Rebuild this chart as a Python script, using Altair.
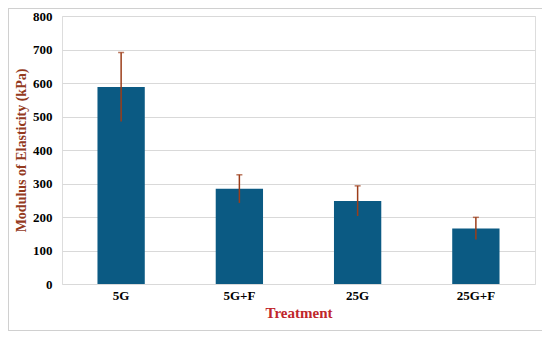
import altair as alt
import pandas as pd

treatments = ["5G", "5G+F", "25G", "25G+F"]
modulus = [588, 284, 248, 166]
error = [103, 42, 45, 33]
y_ticks = [0, 100, 200, 300, 400, 500, 600, 700, 800]

df = pd.DataFrame({"Treatment": treatments, "Modulus": modulus, "Err": error})
df["lo"] = df["Modulus"] - df["Err"]
df["hi"] = df["Modulus"] + df["Err"]

serif = "Liberation Serif"
yscale = alt.Scale(domain=[0, 800])
xscale = alt.Scale(paddingInner=0.6, paddingOuter=0.3)

xaxis = alt.Axis(title="Treatment", labelAngle=0, labelFont=serif,
                 labelFontWeight="bold", labelFontSize=13, labelColor="#000000",
                 titleFont=serif, titleFontWeight="bold", titleFontSize=15,
                 titleColor="#C0262B", titlePadding=3, ticks=False, domain=False,
                 labelPadding=5, grid=False)
yaxis = alt.Axis(title="Modulus of Elasticity (kPa)", values=y_ticks,
                 labelFont=serif, labelFontWeight="bold", labelFontSize=13,
                 labelColor="#000000", titleFont=serif, titleFontWeight="bold",
                 titleFontSize=14, titleColor="#943A1E", titlePadding=4,
                 ticks=False, domain=False, labelPadding=10, labelOverlap=False,
                 gridColor="#D9D9D9", gridWidth=1)

bars = alt.Chart(df).mark_bar(color="#0B5A83").encode(
    x=alt.X("Treatment:N", sort=treatments, scale=xscale, axis=xaxis),
    y=alt.Y("Modulus:Q", scale=yscale, axis=yaxis),
)

rules = alt.Chart(df).mark_rule(color="#9C3D1A", strokeWidth=1.5).encode(
    x=alt.X("Treatment:N", sort=treatments, scale=xscale, axis=xaxis),
    y=alt.Y("lo:Q", scale=yscale, axis=yaxis),
    y2="hi:Q",
)

caps = alt.Chart(df).mark_tick(color="#9C3D1A", orient="horizontal", size=6, thickness=1.5).encode(
    x=alt.X("Treatment:N", sort=treatments, scale=xscale, axis=xaxis),
    y=alt.Y("hi:Q", scale=yscale, axis=yaxis),
)

border = alt.Chart(df).mark_rect(fill=None, stroke="#D0D0D0", strokeWidth=1).encode(
    x=alt.value(-53.5), x2=alt.value(483.5), y=alt.value(-7.5), y2=alt.value(314.5)
)

chart = alt.layer(border, bars, rules, caps).properties(
    width=473, height=268,
    autosize=alt.AutoSizeParams(type="none"),
    padding={"left": 54, "top": 8, "right": 7, "bottom": 47},
).configure_view(strokeWidth=0).configure(background="#FFFFFF")

chart.save("out.html", embed_options={"renderer": "svg", "actions": False})
